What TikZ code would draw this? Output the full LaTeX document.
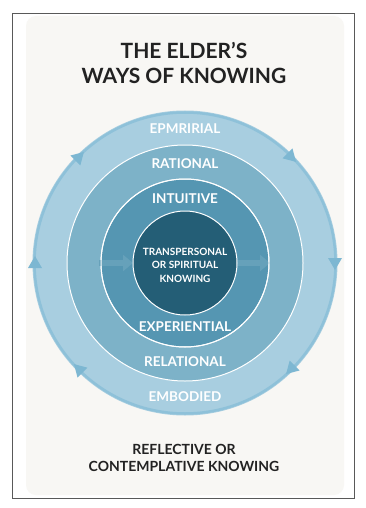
\documentclass[tikz,border=0pt]{standalone}
\usepackage{fontspec}
\setmainfont{Lato}
\usetikzlibrary{arrows.meta,calc}
\definecolor{bgpanel}{HTML}{F8F7F4}
\definecolor{ringA}{HTML}{A8CEE0}
\definecolor{ringB}{HTML}{7DB2C8}
\definecolor{ringC}{HTML}{5596B2}
\definecolor{core}{HTML}{245E76}
\definecolor{arrowc}{HTML}{7DB7D2}
\definecolor{rimc}{HTML}{8EC1D9}
\definecolor{farrow}{HTML}{66A1BA}
\definecolor{ink}{HTML}{222222}
\tikzset{
  ringlabel/.style={text=white,font=\bfseries\fontsize{13.5}{15}\selectfont},
  title/.style={text=ink,font=\bfseries\fontsize{21}{25}\selectfont,align=center},
  bottomtxt/.style={text=ink,font=\bfseries\fontsize{14}{17}\selectfont,align=center},
  coretxt/.style={text=white,font=\bfseries\fontsize{10}{13.5}\selectfont,align=center},
  ringline/.style={draw=white,line width=1pt},
  cyclehead/.style={fill=arrowc,draw=none},
  flowarrow/.style={draw=farrow,line width=6pt,-{Triangle[length=10pt,width=16pt]}}
}
\begin{document}
\begin{tikzpicture}[x=1pt,y=-1pt]
\useasboundingbox (0,0) rectangle (366,508);
\fill[white] (0,0) rectangle (366,508);
\draw[draw=black!65,line width=1pt] (12.5,13.5) rectangle (354,498.5);
\fill[bgpanel,rounded corners=10pt] (26,16) rectangle (344,495);
\node[title] (t) at (184,63) {THE ELDER’S\\WAYS OF KNOWING};
\coordinate (c) at (185,263);
\fill[ringA] (c) circle (152.5);
\draw[rimc,line width=2.5pt] (c) circle (150.5);
\fill[ringB,ringline] (c) circle (118);
\fill[ringC,ringline] (c) circle (84);
% faint flow arrows
\coordinate (fa1) at (99,263);
\coordinate (fa2) at (133,263);
\coordinate (fb1) at (236,263);
\coordinate (fb2) at (270,263);
\draw[flowarrow] (fa1) -- (fa2);
\draw[flowarrow] (fb1) -- (fb2);
\draw[white,line width=1pt] (c) circle (84);
\fill[core,ringline] (c) circle (52);
% cycle arrowheads (clockwise)
\foreach \p in {0,45,135,180,225,315}{
  \fill[cyclehead] ($(c)+(\p:150)+(\p+90:7)$) -- ($(c)+(\p:150)+(\p-90:5)+(\p:7)$) -- ($(c)+(\p:150)+(\p-90:5)+(\p:-7)$) -- cycle;
}
\node[ringlabel] (emp) at (185,129) {EPMRIRIAL};
\node[ringlabel] (rat) at (185,164) {RATIONAL};
\node[ringlabel] (int) at (185,199) {INTUITIVE};
\node[ringlabel] (exp) at (185,327) {EXPERIENTIAL};
\node[ringlabel] (rel) at (185,362) {RELATIONAL};
\node[ringlabel] (emb) at (185,397) {EMBODIED};
\node[coretxt] (core) at (185,265) {TRANSPERSONAL\\OR SPIRITUAL\\KNOWING};
\node[bottomtxt] (ref) at (184,458) {REFLECTIVE OR\\CONTEMPLATIVE KNOWING};
\end{tikzpicture}
\end{document}
